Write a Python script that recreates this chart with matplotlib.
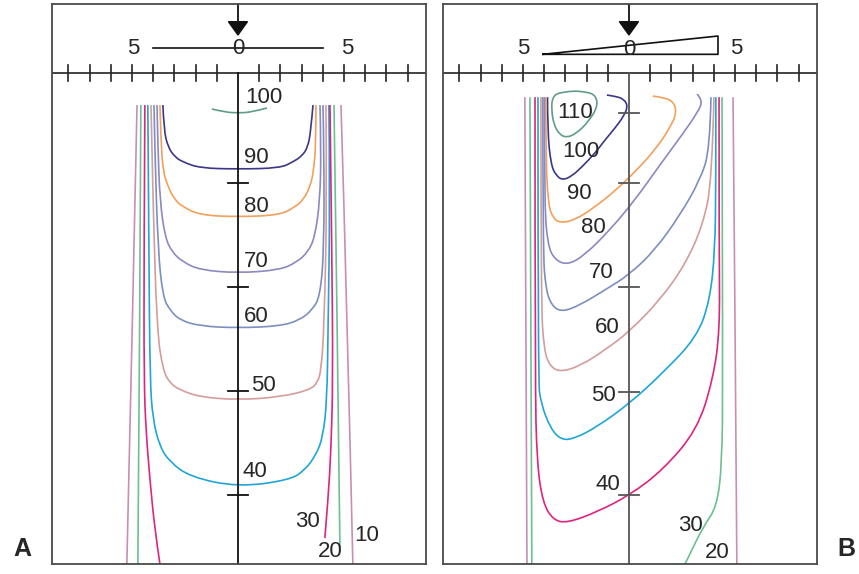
import matplotlib.pyplot as plt
from matplotlib.patches import Polygon, PathPatch
from matplotlib.path import Path

plt.rcParams['font.family'] = ['Liberation Sans', 'DejaVu Sans']

# colours of the isodose lines, highest level first
line_colors = ['#5f9c8a', '#3b3688', '#f2a05a', '#8c88c2', '#7c8fc0',
               '#d59c9c', '#1fa6d6', '#e0237d', '#6cc092', '#c78fb3']

# ---- panel A: open field (x in cm from central axis, depth in cm) ----
levels_a = [100, 90, 80, 70, 60, 50, 40, 30, 20, 10]

a100 = [(-1.23, 1.44), (-0.61, 1.59), (0.0, 1.63), (0.66, 1.59), (1.37, 1.39)]
a90 = [(-3.54, 1.25), (-3.49, 2.45), (-3.30, 3.27), (-2.97, 3.75), (-2.59, 3.99),
       (-1.79, 4.28), (0.0, 4.33), (1.98, 4.28), (2.59, 3.99), (3.02, 3.70),
       (3.30, 3.27), (3.44, 2.45), (3.54, 1.25)]
a80 = [(-3.68, 1.25), (-3.63, 2.93), (-3.54, 4.38), (-3.30, 5.19), (-2.97, 5.82),
       (-2.59, 6.15), (-1.79, 6.54), (0.0, 6.63), (1.98, 6.54), (2.69, 6.15),
       (3.07, 5.82), (3.40, 5.19), (3.58, 4.38), (3.68, 2.93), (3.68, 1.25)]
a70 = [(-3.82, 1.25), (-3.77, 3.41), (-3.68, 5.82), (-3.44, 7.60), (-3.11, 8.32),
       (-2.59, 8.80), (-1.79, 9.18), (0.0, 9.33), (1.98, 9.18), (2.78, 8.80),
       (3.30, 8.32), (3.63, 7.60), (3.87, 5.82), (3.92, 3.41), (3.87, 1.25)]
a60 = [(-3.96, 1.25), (-3.92, 3.41), (-3.77, 8.22), (-3.54, 10.48), (-3.21, 11.11),
       (-2.74, 11.59), (-1.79, 11.88), (0.0, 11.97), (1.98, 11.88), (2.92, 11.59),
       (3.49, 11.11), (3.87, 10.48), (4.06, 8.22), (4.06, 3.41), (4.01, 1.25)]
a50 = [(-4.10, 1.25), (-4.01, 5.82), (-3.82, 12.07), (-3.54, 13.99), (-3.21, 14.62),
       (-2.74, 14.95), (-1.79, 15.29), (0.0, 15.43), (1.98, 15.29), (3.40, 14.95),
       (3.77, 14.57), (3.92, 13.99), (4.06, 12.07), (4.20, 5.82), (4.15, 1.25)]
a40 = [(-4.25, 1.25), (-4.20, 8.22), (-4.15, 14.47), (-4.01, 16.39), (-3.68, 17.69),
       (-3.21, 18.41), (-2.26, 19.13), (0.0, 19.62), (2.45, 19.28), (3.16, 18.80),
       (3.68, 18.08), (4.01, 17.21), (4.20, 15.43), (4.25, 12.07), (4.34, 5.82),
       (4.29, 1.25)]
a30 = [[(-4.39, 1.25), (-4.43, 8.22), (-4.43, 14.47), (-4.34, 16.88), (-4.15, 19.28),
        (-3.92, 21.68), (-3.68, 23.32)],
       [(4.34, 1.25), (4.43, 8.22), (4.48, 14.47), (4.39, 17.84), (4.25, 20.24),
        (4.10, 22.07)]]
a20 = [[(-4.58, 1.25), (-4.62, 10.63), (-4.72, 23.32)],
       [(4.53, 1.25), (4.67, 10.63), (4.81, 22.5)]]
a10 = [[(-4.76, 1.25), (-4.95, 10.63), (-5.24, 23.32)],
       [(4.86, 1.25), (5.14, 10.63), (5.42, 23.32)]]

label_pos_a = [(1.23, 0.87), (0.85, 3.75), (0.85, 6.11), (0.85, 8.75), (0.85, 11.4),
               (1.18, 14.76), (0.80, 18.89), (3.30, 21.3), (4.34, 22.74), (6.09, 21.97)]

# ---- panel B: wedged field ----
levels_b = [110, 100, 90, 80, 70, 60, 50, 40, 30, 20]

b110 = [(-2.55, 0.58), (-3.30, 0.62), (-3.62, 0.90), (-3.65, 1.49), (-3.55, 2.16),
        (-3.30, 2.64), (-2.95, 2.82), (-2.48, 2.62), (-1.93, 2.07), (-1.48, 1.35),
        (-1.55, 0.80), (-2.00, 0.60), (-2.55, 0.58)]
b100 = [(-3.84, 0.87), (-3.84, 2.45), (-3.68, 4.13), (-3.42, 4.66), (-3.11, 4.86),
        (-2.69, 4.66), (-2.22, 4.23), (-1.60, 3.56), (-1.13, 2.93), (-0.66, 2.36),
        (-0.24, 1.78), (-0.05, 1.30), (-0.24, 0.96), (-0.66, 0.82), (-1.04, 0.77)]
b90 = [(-3.92, 0.87), (-3.92, 3.89), (-3.80, 6.06), (-3.58, 6.68), (-3.25, 6.92),
       (-2.55, 6.78), (-1.60, 6.15), (-0.66, 5.38), (0.28, 4.47), (1.23, 3.41),
       (1.93, 2.36), (2.26, 1.59), (2.08, 1.06), (1.56, 0.87), (1.13, 0.82)]
b80 = [(-3.99, 0.87), (-3.99, 5.82), (-3.84, 7.98), (-3.49, 8.70), (-2.88, 8.94),
       (-2.08, 8.46), (-0.90, 7.26), (0.28, 5.82), (1.46, 4.13), (2.50, 2.69),
       (3.25, 1.59), (3.49, 1.01), (3.21, 0.72)]
b70 = [(-4.06, 0.87), (-4.06, 8.22), (-3.92, 10.14), (-3.63, 10.91), (-3.16, 11.20),
       (-2.31, 10.87), (-1.13, 10.14), (0.0, 9.42), (1.23, 8.22), (2.41, 6.54),
       (3.35, 4.86), (3.82, 3.41), (3.87, 0.87)]
b60 = [(-4.15, 0.87), (-4.15, 10.63), (-4.01, 13.03), (-3.73, 13.80), (-3.25, 14.09),
       (-2.31, 13.80), (-1.13, 13.03), (0.0, 12.16), (1.46, 10.63), (2.64, 8.94),
       (3.49, 7.02), (3.92, 4.86), (4.01, 0.87)]
b50 = [(-4.29, 0.87), (-4.29, 14.47), (-4.15, 15.60), (-3.70, 16.80), (-3.20, 17.35),
       (-2.60, 17.30), (-1.51, 16.73), (0.05, 15.58), (1.60, 14.13), (3.21, 12.40),
       (3.82, 10.63), (4.06, 8.22), (4.10, 4.86), (4.10, 0.87)]
b40 = [(-4.43, 0.87), (-4.43, 14.47), (-4.34, 18.46), (-4.06, 20.38), (-3.58, 21.20),
       (-2.92, 21.35), (-1.51, 20.82), (0.05, 20.0), (1.60, 18.80), (3.21, 16.88),
       (3.96, 14.47), (4.29, 12.07), (4.25, 8.22), (4.25, 0.87)]
b30 = [[(-4.67, 0.87), (-4.58, 23.32)],
       [(4.39, 0.87), (4.43, 14.47), (4.39, 18.46), (4.15, 20.58), (3.49, 21.54),
        (2.74, 23.13), (2.64, 23.32)]]
b20 = [[(-4.91, 0.87), (-4.81, 23.32)],
       [(4.91, 0.87), (5.00, 10.63), (5.09, 23.32)]]

label_pos_b = [(-2.55, 1.63), (-2.26, 3.46), (-2.36, 5.48), (-1.70, 7.12), (-1.32, 9.28),
               (-1.04, 11.97), (-1.18, 15.24), (-1.00, 19.52), (2.92, 21.49), (4.18, 22.79)]

# depth marks on the central axis
axis_marks_a = [5, 10, 15, 20]
axis_marks_b = [1.63, 5, 10, 15.05, 20]

ruler_ticks = [-8, -7, -6, -5, -4, -3, -2, -1, 1, 2, 3, 4, 5, 6, 7, 8]

curves_a = [[a100], [a90], [a80], [a70], [a60], [a50], [a40], a30, a20, a10]
curves_b = [[b110], [b100], [b90], [b80], [b70], [b60], [b50], [b40], b30, b20]

XLIM = (-8.77, 8.87)
YLIM = (23.32, -3.61)
FS = 16
TXT = '#262626'


def smooth_path(pts):
    # quadratic bezier through midpoints, so corners come out rounded
    if len(pts) < 3:
        return Path(pts)
    verts = [pts[0]]
    codes = [Path.MOVETO]
    for i in range(1, len(pts) - 1):
        p, q = pts[i], pts[i + 1]
        end = q if i == len(pts) - 2 else ((p[0] + q[0]) / 2, (p[1] + q[1]) / 2)
        verts += [p, end]
        codes += [Path.CURVE3, Path.CURVE3]
    return Path(verts, codes)


def setup_panel(ax, axis_color, marks):
    ax.set_xlim(*XLIM)
    ax.set_ylim(*YLIM)
    ax.set_xticks([])
    ax.set_yticks([])
    for s in ax.spines.values():
        s.set_color('#4a4a4a')
        s.set_linewidth(1.3)
    # ruler along the surface
    ax.plot(XLIM, [-0.29, -0.29], color='#222', lw=1.2)
    for t in ruler_ticks:
        ax.plot([t, t], [-0.67, 0.1], color='#222', lw=1.2)
    # central axis with depth marks
    ax.plot([0, 0], [-0.29, YLIM[0]], color=axis_color, lw=1.3)
    for m in marks:
        ax.plot([-0.47, 0.47], [m, m], color=axis_color, lw=1.3)
    # source arrow
    ax.plot([0, 0], [YLIM[1], -2.7], color='#111', lw=1.3)
    ax.add_patch(Polygon([(-0.45, -2.76), (0.45, -2.76), (0, -2.12)],
                         closed=True, color='#111'))


def draw_curves(ax, curves, levels, label_pos):
    for segs, lev, col, (lx, ly) in zip(curves, levels, line_colors, label_pos):
        for seg in segs:
            ax.add_patch(PathPatch(smooth_path(seg), fill=False, edgecolor=col,
                                   lw=1.2, capstyle='butt'))
        ax.text(lx, ly, str(lev), fontsize=FS, color=TXT, ha='center', va='center')


fig = plt.figure(figsize=(8.59, 5.74), dpi=100)
ax_a = fig.add_axes([52 / 859, 10 / 574, 374 / 859, 560 / 574])
ax_b = fig.add_axes([443 / 859, 10 / 574, 374 / 859, 560 / 574])

setup_panel(ax_a, '#111', axis_marks_a)
setup_panel(ax_b, '#555', axis_marks_b)

# open field outline
ax_a.plot([-4.0, 4.0], [-1.48, -1.48], color='#111', lw=1.2)
ax_a.text(-4.95, -1.45, '5', fontsize=FS, color=TXT, ha='center', va='center')
ax_a.text(5.14, -1.45, '5', fontsize=FS, color=TXT, ha='center', va='center')
ax_a.text(0, -1.45, '0', fontsize=FS, color=TXT, ha='center', va='center')

# wedge outline
ax_b.plot([-4.06, 4.2, 4.2, -4.06], [-1.19, -1.19, -2.07, -1.19], color='#111', lw=1.2)
ax_b.text(-5.0, -1.47, '5', fontsize=FS, color=TXT, ha='center', va='center')
ax_b.text(5.05, -1.47, '5', fontsize=FS, color=TXT, ha='center', va='center')
ax_b.text(0, -1.44, '0', fontsize=FS, color=TXT, ha='center', va='center')

draw_curves(ax_a, curves_a, levels_a, label_pos_a)
draw_curves(ax_b, curves_b, levels_b, label_pos_b)

fig.text(22 / 859, 1 - 549 / 574, 'A', fontsize=18, fontweight='bold', color=TXT,
         ha='center', va='center')
fig.text(846 / 859, 1 - 549 / 574, 'B', fontsize=18, fontweight='bold', color=TXT,
         ha='center', va='center')

fig.savefig('out.png', dpi=100)
